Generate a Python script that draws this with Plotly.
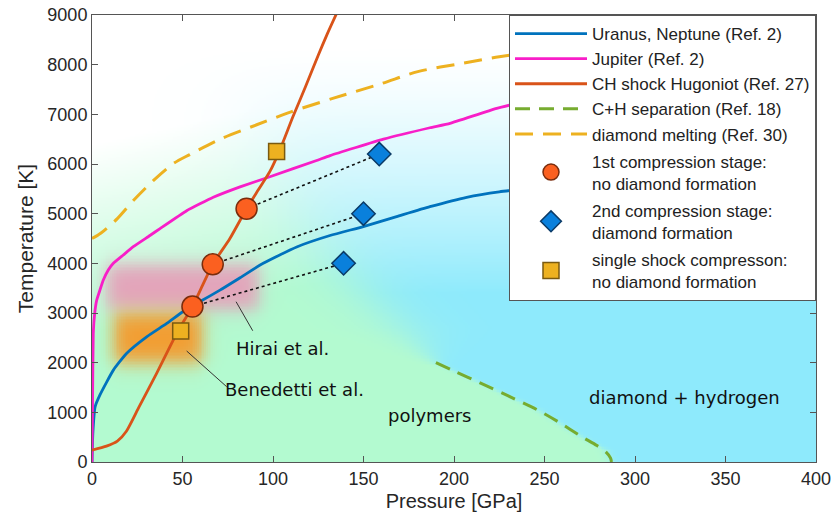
import numpy as np
import plotly.graph_objects as go

# ---------------- data ----------------
# Uranus, Neptune isentrope (Ref. 2)
un_P = [0, 0.5, 1.7, 4.4, 11.8, 19.2, 30.2, 41.3, 50.4, 59.7, 70.7, 81.8, 94.6, 113.1, 131.5, 149.9, 168.3, 186.7, 207, 225, 260, 300, 350, 400]
un_T = [0, 600, 1110, 1350, 1850, 2190, 2520, 2790, 3030, 3230, 3460, 3710, 4000, 4330, 4560, 4740, 4940, 5140, 5330, 5440, 5580, 5730, 5880, 6000]

# Jupiter isentrope (Ref. 2)
ju_P = [0, 0.3, 0.7, 1.5, 2.6, 4.4, 6.2, 9, 11.8, 17.3, 22.8, 32, 37.6, 52.3, 67, 81.8, 98.3, 124.1, 131.5, 161, 186.7, 197.8, 223.6, 260, 300, 350, 400]
ju_T = [0, 1200, 2590, 3000, 3260, 3463, 3660, 3866, 4000, 4168, 4335, 4560, 4700, 5060, 5330, 5540, 5744, 6070, 6170, 6500, 6730, 6819, 7120, 7450, 7800, 8150, 8450]

# CH shock Hugoniot (Ref. 27)
hu_P = [0, 8, 14, 19, 26, 35.7, 43, 49, 55.5, 61, 66.7, 76.2, 85.4, 91.9, 98.3, 104, 111, 118, 125, 130, 136]
hu_T = [240, 320, 420, 620, 1110, 1785, 2320, 2730, 3130, 3550, 3980, 4500, 5100, 5480, 5850, 6300, 6950, 7560, 8190, 8620, 9100]

# C+H separation (Ref. 18)
ch_P = [190, 200, 214, 230, 246, 258, 270, 279, 284, 286.5, 287]
ch_T = [2000, 1830, 1600, 1330, 1050, 800, 520, 330, 200, 80, 0]

# diamond melting (Ref. 30)
dm_P = [0, 5, 14, 23, 34, 45, 54, 72, 91, 110, 133, 160, 180, 205, 225, 260, 300, 350, 400]
dm_T = [4500, 4610, 4900, 5270, 5670, 6010, 6190, 6520, 6790, 7050, 7320, 7620, 7860, 8030, 8160, 8320, 8450, 8580, 8680]

# experimental points
st1_P = [55.5, 66.7, 85.4]
st1_T = [3130, 3980, 5100]
st2_P = [139, 150, 158.7]
st2_T = [4000, 5000, 6200]
sgl_P = [49, 102]
sgl_T = [2640, 6250]

# shaded regions (background)
bnd_T = [0, 240, 510, 1050, 1600, 2000, 2500, 3000, 4000, 5000, 6000, 9000]
bnd_P = [287, 284, 270, 246, 214, 190, 178, 163, 134, 115, 100, 70]
hirai_box = [8, 92, 3080, 3970]       # P0, P1, T0, T1
bened_box = [12, 61, 2000, 3000]

# annotation leaders
hirai_lead_P = [79.6, 88.8]
hirai_lead_T = [3227, 2643]
bened_lead_P = [52.3, 74.4]
bened_lead_T = [2235, 1516]

# ---------------- background image ----------------
nx, ny = 400, 300
Pc = (np.arange(nx) + 0.5) * 400 / nx
Tc = (np.arange(ny) + 0.5) * 9000 / ny
PP, TT = np.meshgrid(Pc, Tc)

def sig(v):
    return 1.0 / (1.0 + np.exp(-v))

Pb = np.interp(TT, bnd_T, bnd_P)
w = np.interp(TT, [0, 1900, 2700, 9000], [1.5, 1.5, 11, 18])
s = sig((PP - Pb) / w)
Ig = np.clip((6800 - TT + 8 * (PP - 50)) / 3800, 0, 1)
Ib = np.clip((8400 - TT) / 5000, 0, 1) ** 1.4
ag = Ig * (1 - s)
ab = Ib * s
green = np.array([179, 250, 208.0])
blue = np.array([142, 234, 252.0])
white = np.array([255, 255, 255.0])
rgb = (white[None, None, :] * (1 - ag - ab)[..., None]
       + green[None, None, :] * ag[..., None]
       + blue[None, None, :] * ab[..., None])

def soft_box(b, bp=2.6, bt=110):
    return (sig((PP - b[0]) / bp) * sig((b[1] - PP) / bp)
            * sig((TT - b[2]) / bt) * sig((b[3] - TT) / bt))

pink = np.array([228, 162, 186.0])
orange = np.array([243, 156, 48.0])
ap = soft_box(hirai_box)[..., None]
rgb = rgb * (1 - ap) + pink * ap
ao = soft_box(bened_box)[..., None]
rgb = rgb * (1 - ao) + orange * ao
img = np.clip(np.round(rgb), 0, 255).astype(np.uint8)

fig = go.Figure()
fig.add_trace(go.Image(z=img, x0=Pc[0], dx=400 / nx, y0=Tc[0], dy=9000 / ny,
                       zsmooth='fast', hoverinfo='skip'))

# leader lines
for lp, lt in [(hirai_lead_P, hirai_lead_T), (bened_lead_P, bened_lead_T)]:
    fig.add_trace(go.Scatter(x=lp, y=lt, mode='lines', line=dict(color='#333', width=1),
                             showlegend=False, hoverinfo='skip'))

# dotted connectors
for i in range(3):
    fig.add_trace(go.Scatter(x=[st1_P[i], st2_P[i]], y=[st1_T[i], st2_T[i]], mode='lines',
                             line=dict(color='#111', width=1.6, dash='dot'),
                             showlegend=False, hoverinfo='skip'))

fig.add_trace(go.Scatter(x=dm_P, y=dm_T, mode='lines', name='diamond melting (Ref. 30)',
                         line=dict(color='#edb120', width=3, dash='18px,10px',
                                   shape='spline', smoothing=0.8),
                         legendgroup='lines', legendrank=5))
fig.add_trace(go.Scatter(x=ch_P, y=ch_T, mode='lines', name='C+H separation (Ref. 18)',
                         line=dict(color='#77ac30', width=3, dash='15px,9px',
                                   shape='spline', smoothing=0.8),
                         legendgroup='lines', legendrank=4))
fig.add_trace(go.Scatter(x=un_P, y=un_T, mode='lines', name='Uranus, Neptune (Ref. 2)',
                         line=dict(color='#0072bd', width=2.8, shape='spline', smoothing=0.5),
                         legendgroup='lines', legendrank=1))
fig.add_trace(go.Scatter(x=ju_P, y=ju_T, mode='lines', name='Jupiter (Ref. 2)',
                         line=dict(color='#f81ec8', width=2.8, shape='spline', smoothing=0.4),
                         legendgroup='lines', legendrank=2))
fig.add_trace(go.Scatter(x=hu_P, y=hu_T, mode='lines', name='CH shock Hugoniot (Ref. 27)',
                         line=dict(color='#d95319', width=2.8, shape='spline', smoothing=0.6),
                         legendgroup='lines', legendrank=3))

fig.add_trace(go.Scatter(x=st1_P, y=st1_T, mode='markers',
                         name='1st compression stage:<br>no diamond formation',
                         marker=dict(symbol='circle', size=21, color='#fb6020',
                                     line=dict(color='#7a2c0c', width=1.5)),
                         legendgroup='g1', legendrank=6))
fig.add_trace(go.Scatter(x=st2_P, y=st2_T, mode='markers',
                         name='2nd compression stage:<br>diamond formation',
                         marker=dict(symbol='diamond', size=18, color='#0a80dc',
                                     line=dict(color='#0b3a66', width=1.5)),
                         legendgroup='g2', legendrank=7))
fig.add_trace(go.Scatter(x=sgl_P, y=sgl_T, mode='markers',
                         name='single shock compresson:<br>no diamond formation',
                         marker=dict(symbol='square', size=16, color='#edb120',
                                     line=dict(color='#7a5a10', width=1.5)),
                         legendgroup='g3', legendrank=8))

ann_font = dict(family='DejaVu Sans', size=18, color='#111')
annots = [
    dict(x=105.5, y=2295, text='Hirai et al.'),
    dict(x=111.6, y=1450, text='Benedetti et al.'),
    dict(x=186.7, y=946, text='polymers'),
    dict(x=327.6, y=1289, text='diamond + hydrogen'),
]
for a in annots:
    fig.add_annotation(x=a['x'], y=a['y'], text=a['text'], showarrow=False,
                       xref='x', yref='y', font=ann_font)

axis_common = dict(showline=True, linecolor='#555', linewidth=1, mirror='ticks',
                   ticks='inside', ticklen=6, tickcolor='#555', showgrid=False,
                   zeroline=False, automargin=False,
                   tickfont=dict(family='Liberation Sans', size=18, color='#262626'))

fig.update_layout(
    width=836, height=516,
    margin=dict(l=92, r=20, t=15, b=54),
    paper_bgcolor='white', plot_bgcolor='white',
    xaxis=dict(range=[0, 400], autorange=False, tickvals=list(range(0, 401, 50)),
               constrain='range',
               title=dict(text='Pressure [GPa]', standoff=6,
                          font=dict(family='Liberation Sans', size=20, color='#262626')),
               **axis_common),
    yaxis=dict(range=[0, 9000], autorange=False, tickvals=list(range(0, 9001, 1000)),
               scaleanchor=False, constrain='range',
               title=dict(text='Temperature [K]', standoff=8,
                          font=dict(family='Liberation Sans', size=21, color='#262626')),
               **axis_common),
    legend=dict(x=1, xanchor='right', y=1, yanchor='top', bgcolor='white',
                bordercolor='#555', borderwidth=1,
                font=dict(family='Liberation Sans', size=17, color='#222'),
                itemwidth=72, tracegroupgap=2, traceorder='grouped', valign='middle'),
    showlegend=True,
)

fig.write_html('out.html', config={'displayModeBar': False},
               post_script="document.body.style.margin='0';document.body.style.overflow='hidden';")
